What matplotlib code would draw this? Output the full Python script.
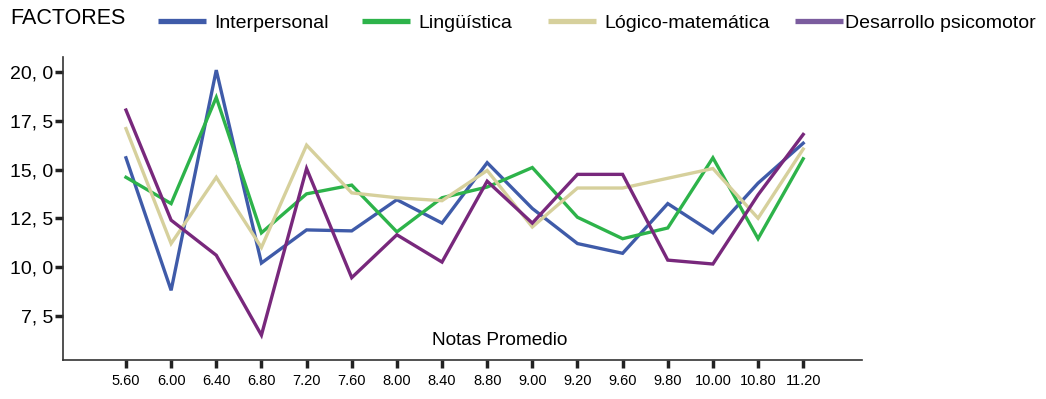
import matplotlib
matplotlib.use("Agg")
import matplotlib.pyplot as plt
from matplotlib.ticker import FuncFormatter

# Notas promedio (categorias del eje X)
notas = ["5.60", "6.00", "6.40", "6.80", "7.20", "7.60", "8.00", "8.40",
         "8.80", "9.00", "9.20", "9.60", "9.80", "10.00", "10.80", "11.20"]

interpersonal = [15.6, 8.8, 20.1, 10.2, 11.9, 11.85, 13.45, 12.25,
                 15.35, 13.0, 11.2, 10.7, 13.25, 11.75, 14.3, 16.35]
linguistica = [14.6, 13.25, 18.7, 11.75, 13.75, 14.2, 11.8, 13.55,
               14.1, 15.1, 12.55, 11.45, 12.0, 15.6, 11.45, 15.55]
logico_matematica = [17.1, 11.2, 14.6, 11.0, 16.25, 13.8, 13.55, 13.4,
                     14.95, 12.05, 14.05, 14.05, 14.55, 15.05, 12.5, 16.05]
psicomotor = [18.05, 12.4, 10.6, 6.5, 15.05, 9.45, 11.65, 10.25,
              14.4, 12.25, 14.75, 14.75, 10.35, 10.15, 13.7, 16.8]

# nombre, valores, color de linea, color en la leyenda
series = [
    ("Interpersonal", interpersonal, "#3f5ba9", "#3f5ba9"),
    ("Lingüística", linguistica, "#2db34a", "#2db34a"),
    ("Lógico-matemática", logico_matematica, "#d6d09c", "#d6d09c"),
    ("Desarrollo psicomotor", psicomotor, "#78287c", "#7b5c9e"),
]

y_ticks = [7.5, 10.0, 12.5, 15.0, 17.5, 20.0]

# posicion (px) de cada entrada de la leyenda y separacion al texto
legend_x = [158, 362, 548, 795]
legend_pad = [0.41, 0.41, 0.41, 0.1]


def coma_decimal(v, pos):
    """Formato tipo SPSS: 20, 0"""
    return "{:.1f}".format(v).replace(".", ", ")


def plot_factores():
    plt.rcParams["font.family"] = ["Liberation Sans", "DejaVu Sans"]
    fig = plt.figure(figsize=(10.46, 3.99), dpi=100)
    ax = fig.add_axes([0.060, 0.098, 0.764, 0.759])

    x = list(range(len(notas)))
    handles = []
    for name, values, color, legend_color in series:
        ax.plot(x, values, color=color, linewidth=2.4, solid_joinstyle="miter")
        h, = ax.plot([], [], color=legend_color, linewidth=3.8,
                     solid_capstyle="butt", label=name)
        handles.append(h)

    ax.set_xlim(-1.4, 16.3)
    ax.set_ylim(5.23, 20.77)
    ax.set_xticks(x)
    ax.set_xticklabels(notas, fontsize=10.5)
    ax.set_yticks(y_ticks)
    ax.yaxis.set_major_formatter(FuncFormatter(coma_decimal))
    ax.tick_params(axis="y", labelsize=14, length=6, width=2.5, color="#222222", pad=1)
    ax.tick_params(axis="x", length=6, width=2.5, color="#222222", pad=4)

    for side in ["top", "right"]:
        ax.spines[side].set_visible(False)
    for side in ["left", "bottom"]:
        ax.spines[side].set_color("#333333")
        ax.spines[side].set_linewidth(1.2)

    ax.text(0.547, 0.063, "Notas Promedio", transform=ax.transAxes,
            ha="center", va="center", fontsize=13.7)

    fig.text(10 / 1046, 1 - 19 / 399, "FACTORES", ha="left", va="center", fontsize=15.5)
    for h, px, pad in zip(handles, legend_x, legend_pad):
        fig.legend(handles=[h], loc="center left",
                   bbox_to_anchor=(px / 1046, 1 - 23 / 399), frameon=False,
                   fontsize=14, handlelength=2.47, handletextpad=pad,
                   borderpad=0, borderaxespad=0)

    fig.savefig("out.png", dpi=100)


def main():
    plot_factores()


if __name__ == "__main__":
    main()
